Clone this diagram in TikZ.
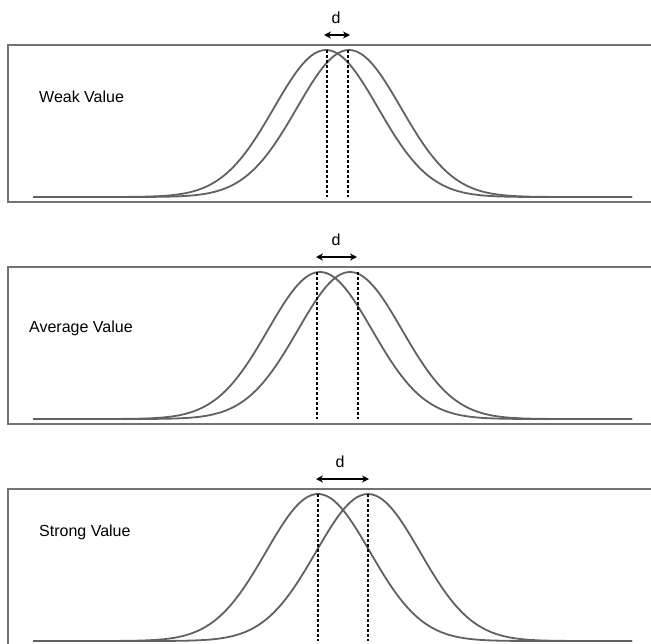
\documentclass[tikz,border=0pt]{standalone}
\usepackage{fontspec}
\setmainfont{Liberation Sans}
\usetikzlibrary{arrows.meta,positioning}

\begin{document}
\begin{tikzpicture}[x=1pt, y=-1pt,
        frame/.style={draw=black!55, line width=1.6pt},
        curve/.style={draw=black!62, line width=1.8pt},
        marker/.style={densely dashed, line width=1.1pt},
        gap/.style={line width=1.7pt, {Stealth[length=7pt,width=7pt]}-{Stealth[length=7pt,width=7pt]}},
        panel/.style={font=\fontsize{16}{19}\selectfont, inner sep=0pt},
    ]
        \useasboundingbox (0,0) rectangle (651,643);
        \clip (0,0) rectangle (651,643);

        % One panel per strength: frame, two bell curves, dashed peaks, d arrow
        \foreach \n/\yt/\pa/\pb/\la/\lb/\aa/\ab/\dx/\tx/\ty/\txt in {
            weak/45/326/349/327/348/324/350/336/39/97/Weak Value,
            avg/267/320/350/317/358/316/357/336/29/328/Average Value,
            strong/489/318/368/318/368/316/369/340/39/532/Strong Value
        } {
            \pgfmathsetmacro{\yb}{\yt+152}
            \draw[frame] (8,\yt) rectangle (670,\yt+157);
            \draw[curve] plot[domain=33:632, samples=160, smooth]
                (\x, {\yb - 147*exp(-0.5*((\x-\pa)/52)^2)});
            \draw[curve] plot[domain=33:632, samples=160, smooth]
                (\x, {\yb - 147*exp(-0.5*((\x-\pb)/52)^2)});
            \draw[marker] (\la,\yt+5) -- (\la,\yb);
            \draw[marker] (\lb,\yt+5) -- (\lb,\yb);
            \coordinate (\n l) at (\aa,\yt-10);
            \coordinate (\n r) at (\ab,\yt-10);
            \draw[gap] (\n l) -- (\n r);
            \node[panel] (\n d) at (\dx,\yt-27) {d};
            \node[panel, anchor=west] (\n t) at (\tx,\ty) {\txt};
        }
    \end{tikzpicture}
\end{document}
